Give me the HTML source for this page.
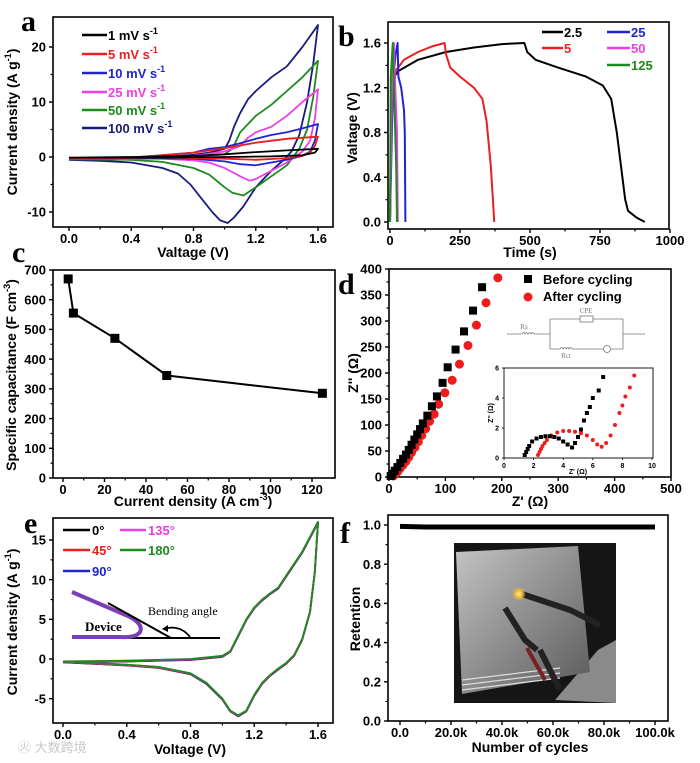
<!DOCTYPE html>
<html><head><meta charset="utf-8"><style>
html,body{margin:0;padding:0;background:#fff;}
svg{display:block;font-family:"Liberation Sans",Arial,sans-serif;}
</style></head><body>
<svg id="fig" width="700" height="763" viewBox="0 0 700 763" xmlns="http://www.w3.org/2000/svg">
<defs>
<linearGradient id="silver" x1="0" y1="0" x2="1" y2="1"><stop offset="0" stop-color="#c4c4c4"/><stop offset="0.5" stop-color="#8e8e8e"/><stop offset="1" stop-color="#5a5a5a"/></linearGradient>
<radialGradient id="glow"><stop offset="0" stop-color="#fff3a0"/><stop offset="0.5" stop-color="#f5b630"/><stop offset="1" stop-color="#f5b630" stop-opacity="0"/></radialGradient>
</defs>
</svg>
<script>
// ---------- DATA ----------
const cvV1=[0,0.4,0.8,1.0,1.2,1.4,1.6,1.58,1.5,1.3,1.0,0.6,0];
const cvI1=[-0.1,0,0.2,0.5,0.9,1.2,1.5,0.8,0.3,0.1,0,-0.1,-0.1];
const cvV5=[0,0.4,0.6,0.8,1.0,1.2,1.4,1.6,1.58,1.55,1.5,1.4,1.2,1.0,0.6,0];
const cvI5=[-0.3,-0.1,0.3,0.8,1.6,2.6,3.3,3.7,2,0.8,0.2,-0.2,-0.5,-0.3,-0.1,-0.3];
const cvV10=[0,0.4,0.8,0.9,1.0,1.1,1.2,1.3,1.4,1.5,1.6,1.58,1.55,1.5,1.4,1.3,1.2,1.1,1.0,0.8,0.4,0];
const cvI10=[-0.3,-0.1,0.8,1.5,1.8,2.5,3.3,4,4.5,5.2,6,3,1,0.2,-0.5,-1,-1.5,-1.3,-0.8,-0.3,-0.2,-0.3];
const cvV25=[0,0.4,0.8,1.0,1.1,1.15,1.2,1.3,1.4,1.5,1.6,1.58,1.55,1.5,1.4,1.3,1.2,1.16,1.1,1.0,0.9,0.8,0.6,0.4,0];
const cvI25=[-0.3,-0.2,0.2,1,2,3.5,4.5,5.5,7.5,10,12.3,7,3,1,-1,-2.5,-4,-4.3,-3.5,-2,-1,-0.6,-0.3,-0.3,-0.3];
const cvV50=[0,0.4,0.8,1.0,1.05,1.1,1.2,1.3,1.4,1.5,1.6,1.57,1.53,1.48,1.4,1.3,1.2,1.12,1.05,1.0,0.9,0.8,0.6,0.4,0];
const cvI50=[-0.4,-0.2,0.1,0.5,1.5,4.5,7.5,9.5,12,14.5,17.5,11,5,1.5,-1.5,-3.5,-5.5,-7,-6.5,-5.5,-3.2,-2,-0.9,-0.5,-0.4];
const cvV100=[0,0.2,0.4,0.6,0.8,0.9,0.95,1.0,1.03,1.06,1.1,1.15,1.2,1.3,1.4,1.5,1.6,1.57,1.53,1.48,1.43,1.38,1.3,1.2,1.12,1.06,1.02,0.97,0.92,0.85,0.78,0.7,0.6,0.4,0.2,0];
const cvI100=[-0.5,-0.3,-0.1,0,0.4,0.8,1.1,1.5,3,5.5,8,10.5,12,14.5,16.5,20,24,17,10,4,1,-0.5,-2.5,-5.5,-9,-11,-12,-11.5,-10,-7.5,-5,-3,-2,-1,-0.7,-0.5];
const aXTicks=[0,0.4,0.8,1.2,1.6];
const aXLabels=["0.0","0.4","0.8","1.2","1.6"];
const aYTicks=[-10,0,10,20];
const gT25a=[0,5,15,30,100,200,300,400,480,490,520,600,700,760,790,810,825,840,850,880,910];
const gV25a=[0,1.0,1.3,1.35,1.45,1.52,1.56,1.59,1.6,1.52,1.45,1.38,1.3,1.22,1.1,0.8,0.5,0.2,0.1,0.04,0.0];
const gT5=[0,5,20,50,100,150,195,200,215,250,300,330,345,360,370,372];
const gV5=[0,1.0,1.35,1.45,1.52,1.57,1.6,1.5,1.38,1.3,1.2,1.1,0.9,0.5,0.1,0.0];
const gT25=[0,10,20,27,30,40,50,53,55];
const gV25=[0,1.2,1.5,1.6,1.3,1.2,1.0,0.8,0.0];
const gT50=[0,8,14,17,25,28];
const gV50=[0,1.4,1.6,1.3,0.8,0];
const gT125=[0,3,10,14,22,25];
const gV125=[0,1.3,1.6,1.2,0.5,0];
const bXTicks=[0,250,500,750,1000];
const bYTicks=[0,0.4,0.8,1.2,1.6];
const bYLabels=["0.0","0.4","0.8","1.2","1.6"];
const cCurrent=[2.5,5,25,50,125];
const cCap=[670,555,470,345,285];
const cXTicks=[0,20,40,60,80,100,120];
const cYTicks=[0,100,200,300,400,500,600,700];
const dBeforeX=[3,6,10,15,20,25,30,35,40,45,50,55,60,68,76,85,95,104,118,133,149,165];
const dBeforeY=[2,6,12,19,27,35,43,52,62,72,82,92,103,118,136,155,181,211,245,280,320,365];
const dAfterX=[8,12,16,20,25,30,35,40,46,52,58,65,72,80,88,99,112,125,140,155,172,193];
const dAfterY=[2,6,11,17,23,30,38,47,57,68,80,93,107,121,140,162,186,217,253,292,335,383];
const dInBeforeX=[1.4,1.5,1.6,1.7,1.9,2.2,2.5,2.8,3.1,3.4,3.7,4.0,4.3,4.6,4.8,5.0,5.2,5.4,5.6,5.8,6.0,6.4,6.7];
const dInBeforeY=[0.2,0.4,0.6,0.8,1.1,1.3,1.4,1.45,1.45,1.4,1.3,1.1,0.9,0.7,1.0,1.4,1.9,2.5,3.0,3.4,4.0,4.5,5.4];
const dInAfterX=[2.3,2.4,2.5,2.6,2.75,2.9,3.2,3.6,4.0,4.4,4.8,5.2,5.6,6.0,6.3,6.6,6.9,7.2,7.5,7.8,8.0,8.2,8.5,8.8];
const dInAfterY=[0.2,0.4,0.6,0.8,1.0,1.2,1.5,1.7,1.8,1.8,1.75,1.65,1.5,1.2,0.9,0.75,1.0,1.5,2.2,3.0,3.5,4.1,4.7,5.5];
const dXTicks=[0,100,200,300,400,500];
const dYTicks=[0,50,100,150,200,250,300,350,400];
const dInXTicks=[0,2,4,6,8,10];
const dInYTicks=[0,2,4,6];
const eV=[0,0.4,0.8,1.0,1.05,1.1,1.15,1.2,1.25,1.3,1.35,1.4,1.5,1.6,1.58,1.55,1.5,1.45,1.4,1.35,1.3,1.25,1.2,1.15,1.1,1.05,1.0,0.9,0.8,0.6,0.4,0.2,0];
const eI=[-0.3,-0.2,0,0.4,1,3,5,6.5,7.5,8.3,9,10.5,13.5,17.3,11,6,2.5,0.5,-0.5,-1.2,-2,-3,-4.5,-6.5,-7.1,-6.5,-5,-3,-1.8,-1,-0.7,-0.5,-0.3];
const eXTicks=[0,0.4,0.8,1.2,1.6];
const eXLabels=["0.0","0.4","0.8","1.2","1.6"];
const eYTicks=[-5,0,5,10,15];
const fCycles=[0,10000,20000,30000,40000,50000,60000,70000,80000,90000,100000];
const fRetention=[0.993,0.99,0.99,0.99,0.99,0.99,0.99,0.99,0.99,0.99,0.99];
const fXTicks=[0,20000,40000,60000,80000,100000];
const fXLabels=["0.0","20.0k","40.0k","60.0k","80.0k","100.0k"];
const fYTicks=[0,0.2,0.4,0.6,0.8,1.0];
const fYLabels=["0.0","0.2","0.4","0.6","0.8","1.0"];

// ---------- HELPERS ----------
const NS="http://www.w3.org/2000/svg";
const svg=document.getElementById('fig');
function mk(tag,attrs,parent){const e=document.createElementNS(NS,tag);for(const k in attrs)e.setAttribute(k,attrs[k]);(parent||svg).appendChild(e);return e;}
function lin(d0,d1,r0,r1){return v=>r0+(v-d0)*(r1-r0)/(d1-d0);}
function pathD(xs,ys,sx,sy){return xs.map((x,i)=>(i?'L':'M')+sx(x).toFixed(1)+','+sy(ys[i]).toFixed(1)).join(' ');}
function group(name){const g=mk('g',{});return g;}
function text(g,x,y,s,opt){const t=mk('text',Object.assign({x:x,y:y,'font-size':13,'font-weight':'bold','text-anchor':'middle',fill:'#000'},opt||{}),g);t.textContent=s;return t;}

function axes(g,p){
  const [l,t,r,b]=p.box;
  const fr=mk('rect',{x:l,y:t,width:r-l,height:b-t,fill:'none',stroke:'#000','stroke-width':p.sw||1.6},g);
  
  
  const fs=p.fs||13;
  p.xt.forEach((v,i)=>{
    const x=p.sx(v);
    const tk=mk('line',{x1:x,x2:x,y1:b,y2:b+(p.tl||4),stroke:'#000','stroke-width':p.tw||1.4},g);
    
    
    const lb=text(g,x,b+fs+3,p.xl?p.xl[i]:String(v),{'font-size':fs,'font-weight':p.fw||'bold'});
    
    
    if(i<p.xt.length-1&&p.minor!==false){
      const xm=p.sx((v+p.xt[i+1])/2);
      const mt=mk('line',{x1:xm,x2:xm,y1:b,y2:b+2.5,stroke:'#000','stroke-width':1.2},g);
      
      
    }
  });
  p.yt.forEach((v,i)=>{
    const y=p.sy(v);
    const tk=mk('line',{x1:l-(p.tl||4),x2:l,y1:y,y2:y,stroke:'#000','stroke-width':p.tw||1.4},g);
    
    
    const lb=text(g,l-(p.tl||4)-3,y+fs*0.36,p.yl?p.yl[i]:String(v),{'font-size':fs,'text-anchor':'end','font-weight':p.fw||'bold'});
    
    
    if(i<p.yt.length-1&&p.minor!==false){
      const ym=p.sy((v+p.yt[i+1])/2);
      const mt=mk('line',{x1:l-2.5,x2:l,y1:ym,y2:ym,stroke:'#000','stroke-width':1.2},g);
      
      
    }
  });
}
function title(g,x,y,parts,rot,name,fs){
  const t=mk('text',{x:x,y:y,'font-size':fs||14,'font-weight':'bold','text-anchor':'middle',fill:'#000'},g);
  if(rot)t.setAttribute('transform','rotate(-90 '+x+' '+y+')');
  
  
  parts.forEach(pt=>{const s=mk('tspan',{},t);if(pt.sup){s.setAttribute('dy',-6);s.setAttribute('font-size',(fs||14)*0.65);}else if(pt.after){s.setAttribute('dy',6);}s.textContent=pt.t;});
  return t;
}
function letter(x,y,s){const t=mk('text',{x:x,y:y,'font-family':'"Liberation Serif",serif','font-size':30,'font-weight':'bold',fill:'#000'});t.textContent=s;}
function series(g,d,color,name,w){const p=mk('path',{d:d,fill:'none',stroke:color,'stroke-width':w||2,'stroke-linejoin':'round'},g);return p;}
function legendLine(g,x1,x2,y,color,label,tx,name,sup){
  const ln=mk('line',{x1:x1,x2:x2,y1:y,y2:y,stroke:color,'stroke-width':2.5},g);
  
  
  const t=mk('text',{x:tx,y:y+5,'font-size':13,'font-weight':'bold',fill:color},g);
  
  
  const a=mk('tspan',{},t);a.textContent=label;
  if(sup){const s=mk('tspan',{dy:-6,'font-size':9},t);s.textContent=sup;}
}

// ---------- PANEL A ----------
(function(){
  const g=group('panel-a-cv-scan-rates');
  const sx=lin(0,1.6,69,318), sy=lin(0,20,157,47);
  axes(g,{box:[53,17,333,227],sx:sx,sy:sy,xt:aXTicks,xl:aXLabels,yt:aYTicks});
  const cols=['#000','#e8201f','#1e24d0','#ee3ee8','#1d8a1d','#1a1a80'];
  const Vs=[cvV1,cvV5,cvV10,cvV25,cvV50,cvV100], Is=[cvI1,cvI5,cvI10,cvI25,cvI50,cvI100];
  const names=['cv-1mvs','cv-5mvs','cv-10mvs','cv-25mvs','cv-50mvs','cv-100mvs'];
  const labs=['1 mV s','5 mV s','10 mV s','25 mV s','50 mV s','100 mV s'];
  const ly=[35,54,73,92,110,128];
  for(let i=5;i>=0;i--){series(g,pathD(Vs[i],Is[i],sx,sy),cols[i],names[i],1.8);}
  for(let i=0;i<6;i++){legendLine(g,82,107,ly[i],cols[i],labs[i],108,'legend-'+names[i],'-1');}
  title(g,193,257,[{t:'Valtage (V)'}],false,'x-axis-title');
  title(g,17,122,[{t:'Current density (A g'},{t:'-1',sup:1},{t:')',after:1}],true,'y-axis-title');
})();
letter(21,31,'a');

// ---------- PANEL B ----------
(function(){
  const g=group('panel-b-gcd');
  const sx=lin(0,1000,390,670), sy=lin(0,1.6,222,43);
  axes(g,{box:[388,22,669,229],sx:sx,sy:sy,xt:bXTicks,yt:bYTicks,yl:bYLabels});
  series(g,pathD(gT25a,gV25a,sx,sy),'#000','gcd-2.5');
  series(g,pathD(gT5,gV5,sx,sy),'#e8201f','gcd-5');
  series(g,pathD(gT25,gV25,sx,sy),'#1e24d0','gcd-25');
  series(g,pathD(gT50,gV50,sx,sy),'#ee3ee8','gcd-50');
  series(g,pathD(gT125,gV125,sx,sy),'#1d8a1d','gcd-125');
  legendLine(g,542,563,32,'#000','2.5',564,'legend-2.5');
  legendLine(g,542,563,48,'#e8201f','5',564,'legend-5');
  legendLine(g,607,630,32,'#1e24d0','25',631,'legend-25');
  legendLine(g,607,630,48,'#ee3ee8','50',631,'legend-50');
  legendLine(g,607,630,65,'#1d8a1d','125',631,'legend-125');
  title(g,530,257,[{t:'Time (s)'}],false,'x-axis-title');
  title(g,357,128,[{t:'Valtage (V)'}],true,'y-axis-title');
})();
letter(338,46,'b');

// ---------- PANEL C ----------
(function(){
  const g=group('panel-c-capacitance');
  const sx=lin(0,120,63,312), sy=lin(0,700,478,270);
  axes(g,{box:[53,270,335,478],sx:sx,sy:sy,xt:cXTicks,yt:cYTicks});
  series(g,pathD(cCurrent,cCap,sx,sy),'#000','capacitance-line',2);
  cCurrent.forEach((c,i)=>{
    const m=mk('rect',{x:sx(c)-4.5,y:sy(cCap[i])-4.5,width:9,height:9,fill:'#000'},g);
    
    
  });
  title(g,193,506,[{t:'Current density (A cm'},{t:'-3',sup:1},{t:')',after:1}],false,'x-axis-title');
  title(g,16,375,[{t:'Specific capacitance (F cm'},{t:'-3',sup:1},{t:')',after:1}],true,'y-axis-title');
})();
letter(12,262,'c');

// ---------- PANEL D ----------
(function(){
  const g=group('panel-d-nyquist');
  const sx=lin(0,500,389,671), sy=lin(0,400,477,269);
  axes(g,{box:[389,269,671,477],sx:sx,sy:sy,xt:dXTicks,yt:dYTicks});
  dAfterX.forEach((x,i)=>{const c=mk('circle',{cx:sx(x),cy:sy(dAfterY[i]),r:4.5,fill:'#ee1c1c'},g);});
  dBeforeX.forEach((x,i)=>{const s=mk('rect',{x:sx(x)-4,y:sy(dBeforeY[i])-4,width:8,height:8,fill:'#000'},g);});
  const lm1=mk('rect',{x:524,y:275,width:8,height:8,fill:'#000'},g);
  
  
  const lt1=text(g,543,284,'Before cycling',{'text-anchor':'start'});
  
  
  const lm2=mk('circle',{cx:528,cy:297,r:4.5,fill:'#ee1c1c'},g);
  
  
  const lt2=text(g,543,301,'After cycling',{'text-anchor':'start'});
  
  
  const cg=mk('g',{stroke:'#777','stroke-width':0.8,fill:'none'},g);
  
  
  const cp=mk('path',{d:'M507,334 L522,334 q1.5,-3 3,0 q1.5,-3 3,0 q1.5,-3 3,0 q1.5,-3 3,0 L550,334 M550,319 L550,349 M623,319 L623,349 L623,334 L645,334 M550,319 L580,319 M593,319 L623,319 M550,349 L560,349 q1.5,-3 3,0 q1.5,-3 3,0 q1.5,-3 3,0 q1.5,-3 3,0 L603,349 M611,349 L623,349'},cg);
  
  
  const cpe=mk('rect',{x:580,y:316,width:13,height:6},cg);
  
  
  const wc=mk('circle',{cx:607,cy:349,r:3.5},cg);
  
  
  [['CPE',586,313],['Rs',524,329],['Rct',566,358]].forEach(a=>{const t=text(g,a[1],a[2],a[0],{'font-size':7,'font-weight':'normal',fill:'#777','font-family':'"Liberation Serif",serif'});});
  const ig=group('nyquist-inset');
  const ix=lin(0,10,504,652), iy=lin(0,6,458,368);
  axes(ig,{box:[504,368,653,458],sx:ix,sy:iy,xt:dInXTicks,yt:dInYTicks,fs:7,fw:'bold',tl:2,tw:0.8,sw:0.9,minor:false});
  dInAfterX.forEach((x,i)=>{const c=mk('circle',{cx:ix(x),cy:iy(dInAfterY[i]),r:2,fill:'#ee1c1c'},ig);});
  dInBeforeX.forEach((x,i)=>{const s=mk('rect',{x:ix(x)-2,y:iy(dInBeforeY[i])-2,width:4,height:4,fill:'#000'},ig);});
  title(ig,578,474,[{t:"Z' (Ω)"}],false,'inset-x-title',7);
  title(ig,493,413,[{t:"Z'' (Ω)"}],true,'inset-y-title',7);
  title(g,530,506,[{t:"Z' (Ω)"}],false,'x-axis-title');
  title(g,358,373,[{t:"Z'' (Ω)"}],true,'y-axis-title');
})();
letter(338,294,'d');

// ---------- PANEL E ----------
(function(){
  const g=group('panel-e-bending');
  const sx=lin(0,1.6,63,318), sy=lin(0,15,659,540);
  axes(g,{box:[53,518,333,723],sx:sx,sy:sy,xt:eXTicks,xl:eXLabels,yt:eYTicks});
  const cols=['#000','#e8201f','#1e24d0','#ee3ee8','#1d8a1d'];
  const nm=['cv-0deg','cv-45deg','cv-90deg','cv-135deg','cv-180deg'];
  const off=[-0.4,-0.3,-0.2,-0.1,0];
  for(let i=0;i<5;i++){series(g,pathD(eV,eI.map(v=>v+off[i]*0.3),sx,sy),cols[i],nm[i],1.8);}
  legendLine(g,63,90,530,'#000','0°',92,'legend-0deg');
  legendLine(g,120,146,530,'#ee3ee8','135°',148,'legend-135deg');
  legendLine(g,63,90,550,'#e8201f','45°',92,'legend-45deg');
  legendLine(g,120,146,550,'#1d8a1d','180°',148,'legend-180deg');
  legendLine(g,63,90,571,'#1e24d0','90°',92,'legend-90deg');
  const dg=mk('g',{},g);
  
  
  const base=mk('line',{x1:72,y1:638,x2:220,y2:638,stroke:'#000','stroke-width':2},dg);
  
  
  const dev=mk('path',{d:'M72,592 L128,616 Q144,624 140,632 Q136,638 120,637 L72,637',fill:'none',stroke:'#7b3fb5','stroke-width':4},dg);
  
  
  const arm=mk('line',{x1:108,y1:603,x2:171,y2:638,stroke:'#000','stroke-width':2},dg);
  
  
  const arc=mk('path',{d:'M163,629 Q180,624 190,637',fill:'none',stroke:'#000','stroke-width':1.8},dg);
  
  
  const ah=mk('path',{d:'M162,629 L168,625 L168,632 Z',fill:'#000'},dg);
  
  
  const bt=text(dg,148,615,'Bending angle',{'font-size':12,'font-weight':'normal','text-anchor':'start','font-family':'"Liberation Serif",serif'});
  
  
  const dt=text(dg,85,631,'Device',{'font-size':13,'text-anchor':'start','font-family':'"Liberation Serif",serif'});
  
  
  title(g,190,754,[{t:'Voltage (V)'}],false,'x-axis-title');
  title(g,17,622,[{t:'Current density (A g'},{t:'-1',sup:1},{t:')',after:1}],true,'y-axis-title');
  const wm=text(g,18,752,'㊋ 大数跨境',{'font-size':13,'font-weight':'normal','text-anchor':'start',fill:'#c8c8c8','font-family':'"Liberation Sans","Noto Sans CJK SC",sans-serif'});
  
  
})();
letter(24,533,'e');

// ---------- PANEL F ----------
(function(){
  const g=group('panel-f-cycling');
  const sx=lin(0,100000,400,655), sy=lin(0,1,721,525);
  axes(g,{box:[388,515,668,721],sx:sx,sy:sy,xt:fXTicks,xl:fXLabels,yt:fYTicks,yl:fYLabels});
  series(g,pathD(fCycles,fRetention,sx,sy),'#000','retention-line',5);
  const pg=mk('g',{},g);
  
  
  const bg=mk('rect',{x:454,y:543,width:162,height:160,fill:'#151515'},pg);
  
  
  const flr=mk('polygon',{points:'555,700 598,650 616,640 616,703',fill:'#8a8a8a'},pg);
  
  
  const sh=mk('polygon',{points:'456,552 578,546 590,672 462,694',fill:'url(#silver)'},pg);
  
  
  const st=mk('path',{d:'M462,680 L560,668 M462,685 L560,673 M462,690 L560,678',stroke:'#ddd','stroke-width':1.2},pg);
  
  
  const cl=mk('path',{d:'M505,608 L525,640 L537,650 M522,594 L570,610 L600,625 M540,650 L560,690',stroke:'#222','stroke-width':6,fill:'none'},pg);
  
  
  const wr=mk('path',{d:'M527,648 L545,680',stroke:'#7a1f25','stroke-width':4,fill:'none'},pg);
  
  
  const led=mk('circle',{cx:519,cy:594,r:7,fill:'url(#glow)'},pg);
  
  
  title(g,530,752,[{t:'Number of cycles'}],false,'x-axis-title');
  title(g,360,619,[{t:'Retention'}],true,'y-axis-title');
})();
letter(340,543,'f');
</script>
</body></html>
